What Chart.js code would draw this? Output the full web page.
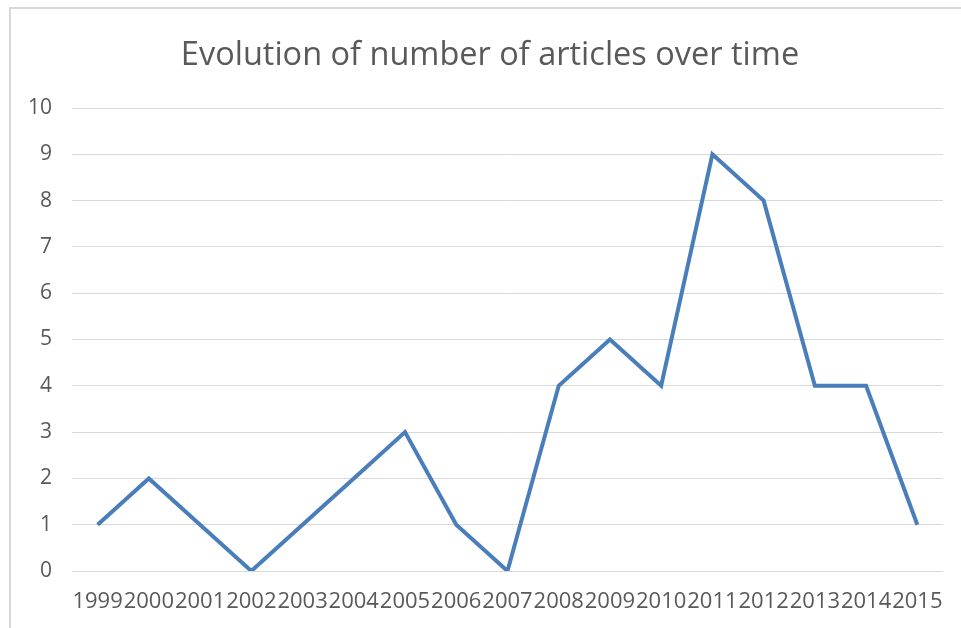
<!DOCTYPE html>
<html>
<head>
<meta charset="utf-8">
<script src="https://cdn.jsdelivr.net/npm/chart.js@4/dist/chart.umd.min.js"></script>
<style>
  html, body { margin: 0; padding: 0; background: #fff; }
  #wrap {
    position: absolute; left: 9px; top: 7px;
    width: 950px; height: 621px;
    border-left: 2px solid #d9d9d9; border-top: 2px solid #d9d9d9;
  }
</style>
</head>
<body>
<div id="wrap"><canvas id="chart"></canvas></div>
<script>
const years = ["1999", "2000", "2001", "2002", "2003", "2004", "2005", "2006", "2007",
  "2008", "2009", "2010", "2011", "2012", "2013", "2014", "2015"];
const articles = [1, 2, 1, 0, 1, 2, 3, 1, 0, 4, 5, 4, 9, 8, 4, 4, 1];
const yTicks = [0, 1, 2, 3, 4, 5, 6, 7, 8, 9, 10];

const font = "'Open Sans', 'Liberation Sans', sans-serif";

// the title is centred on the whole canvas, not on the box left after the right padding
const centreTitle = {
  id: "centreTitle",
  afterLayout(chart) {
    if (chart.titleBlock) chart.titleBlock.right = chart.width + 8;
  },
};

window.onload = function () {
  const ctx = document.getElementById("chart").getContext("2d");
  new Chart(ctx, {
    type: "line",
    data: {
      labels: years,
      datasets: [{
        label: "Articles",
        data: articles,
        borderColor: "#4a7ebb",
        borderWidth: 4,
        pointRadius: 0,
        tension: 0,
        fill: false,
      }],
    },
    options: {
      responsive: true,
      maintainAspectRatio: false,
      animation: false,
      layout: { padding: { left: 0, right: 17, top: 0, bottom: 0 } },
      plugins: {
        legend: { display: false },
        tooltip: { enabled: false },
        title: {
          display: true,
          text: "Evolution of number of articles over time",
          color: "#595959",
          font: { family: font, size: 32.5, weight: "normal" },
          padding: { top: 27, bottom: 33 },
        },
      },
      scales: {
        x: {
          offset: true,
          grid: { display: false, drawTicks: false },
          border: { display: false },
          ticks: {
            color: "#595959",
            font: { family: font, size: 22 },
            padding: 18,
            maxRotation: 0,
            autoSkip: false,
          },
          afterFit: (s) => { s.height = 59; },
        },
        y: {
          min: 0,
          max: 10,
          afterBuildTicks: (s) => { s.ticks = yTicks.map((v) => ({ value: v })); },
          grid: { color: "#d9d9d9", lineWidth: 1, drawTicks: false },
          border: { display: false },
          ticks: {
            color: "#595959",
            font: { family: font, size: 21 },
            padding: 20,
          },
          afterFit: (s) => { s.width = 61; },
        },
      },
    },
    plugins: [centreTitle],
  });
};
</script>
</body>
</html>
